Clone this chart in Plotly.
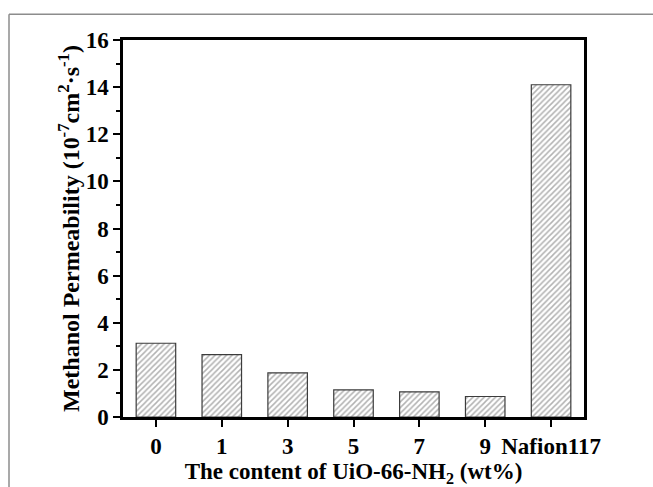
import plotly.graph_objects as go

# Methanol permeability of composite membranes vs. filler loading
categories = ["0", "1", "3", "5", "7", "9", "Nafion117"]
permeability = [3.13, 2.65, 1.87, 1.15, 1.07, 0.87, 14.1]

y_ticks = [0, 2, 4, 6, 8, 10, 12, 14, 16]

serif = "Liberation Serif"

fig = go.Figure(
    go.Bar(
        x=categories,
        y=permeability,
        width=0.6,
        marker=dict(
            color="white",
            line=dict(color="#3c3c3c", width=1.2),
            pattern=dict(shape="/", fgcolor="#666666", bgcolor="white",
                         size=4, solidity=0.38),
        ),
    )
)

W, H = 653, 487
L, R, T, B = 123, 69, 40, 67
pw, ph = W - L - R, H - T - B

fig.update_layout(
    width=W, height=H,
    margin=dict(l=L, r=R, t=T, b=B),
    paper_bgcolor="white", plot_bgcolor="white",
    showlegend=False,
    font=dict(family=serif, color="black"),
    bargap=0.4,
)

fig.update_xaxes(
    range=[-0.5, 6.5],
    showgrid=False, zeroline=False,
    showline=True, linecolor="black", linewidth=2.5, mirror=True,
    ticks="outside", ticklen=7, tickwidth=2, tickcolor="black",
    minor=dict(ticks="outside", ticklen=4, tickwidth=2, tickcolor="black",
               tick0=-0.5, dtick=1),
    tickfont=dict(family=serif, size=23, weight="bold", color="black"),
    title=dict(text="The content of UiO-66-NH<sub>2</sub> (wt%)",
               font=dict(family=serif, size=23, weight="bold", color="black"),
               standoff=0),
)

fig.update_yaxes(
    range=[0, 16],
    tickvals=y_ticks,
    showgrid=False, zeroline=False,
    showline=True, linecolor="black", linewidth=2.5, mirror=True,
    ticks="outside", ticklen=7, tickwidth=2, tickcolor="black",
    minor=dict(ticks="outside", ticklen=4, tickwidth=2, tickcolor="black",
               dtick=1),
    tickfont=dict(family=serif, size=23, weight="bold", color="black"),
    title=dict(text="Methanol Permeability (10<sup>-7</sup>cm<sup>2</sup>·s<sup>-1</sup>)",
               font=dict(family=serif, size=24, weight="bold", color="black"),
               standoff=0),
)

# thin gray frame along the top and left of the figure
fx = (9 - L) / pw
fy = 1 + (T - 14) / ph
frame = dict(type="line", xref="paper", yref="paper",
             line=dict(color="#8c8c8c", width=1.5), layer="below")
fig.add_shape(**frame, x0=fx, y0=fy, x1=fx, y1=-1)
fig.add_shape(**frame, x0=fx, y0=fy, x1=2, y1=fy)

fig.write_html("out.html")
